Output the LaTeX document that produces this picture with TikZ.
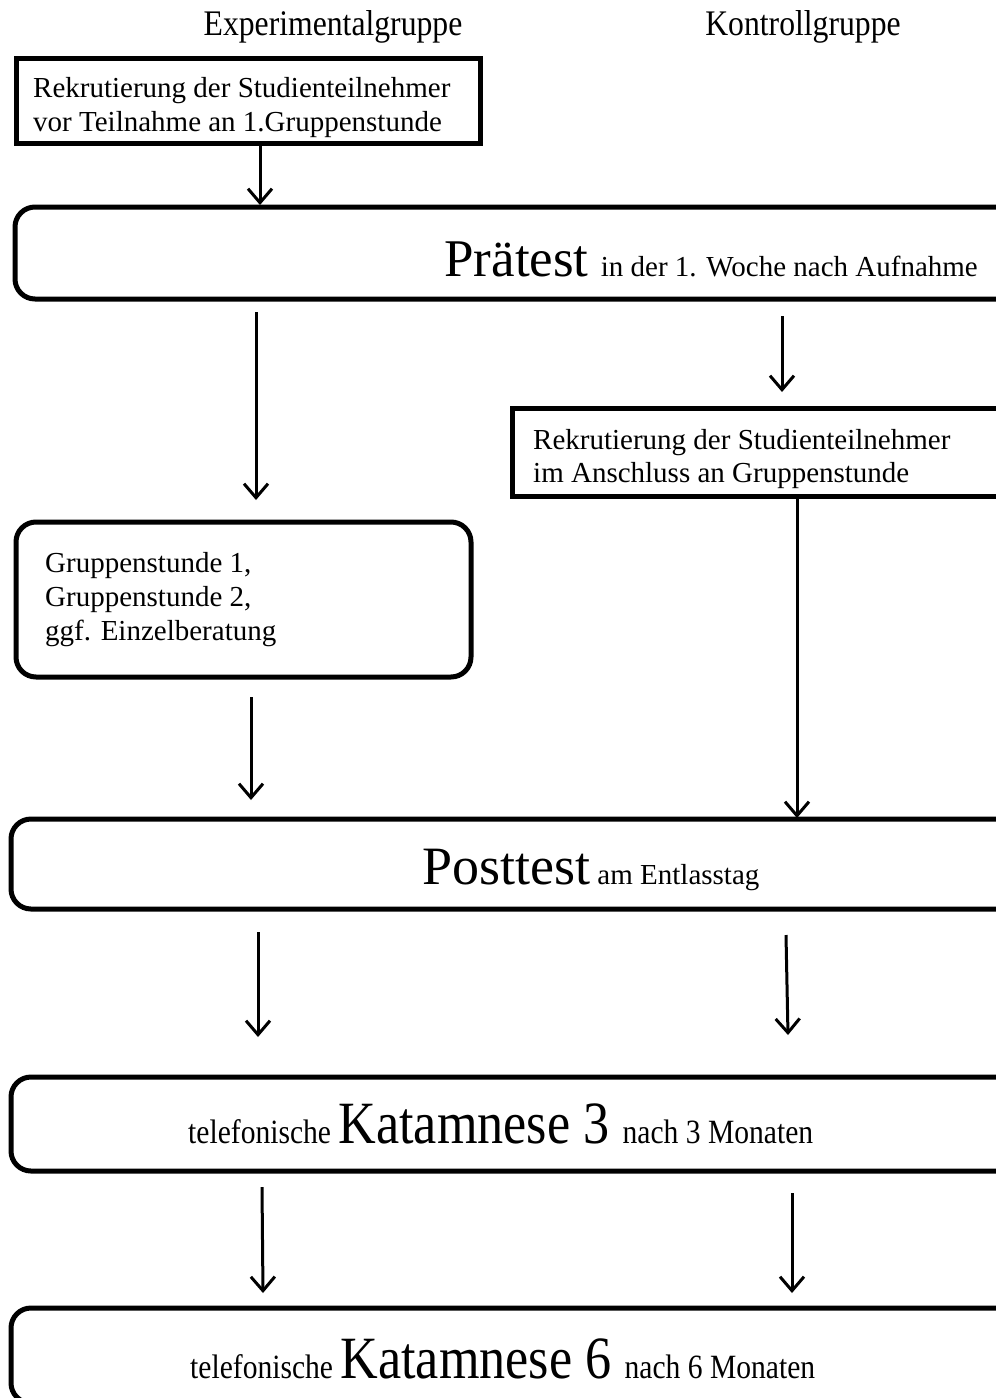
\documentclass[tikz,border=0pt]{standalone}
\usepackage{fontspec}
\setmainfont{Liberation Serif}
\usetikzlibrary{arrows.meta}
\newcommand{\fsz}[1]{\fontsize{#1}{#1}\selectfont}
\tikzset{
  box/.style={line width=5pt},
  rbox/.style={line width=5pt, rounded corners=20pt},
  flow/.style={line width=3pt, -{Straight Barb[length=14pt,width=24pt,line width=3pt]}},
  txt/.style={inner sep=0pt, anchor=base west, font=\fsz{29}},
  ctxt/.style={inner sep=0pt, anchor=base},
}
\begin{document}
\begin{tikzpicture}[x=1pt,y=-1pt]
\useasboundingbox (0,0) rectangle (996,1398);
\clip (0,0) rectangle (996,1398);
% headers
\node[ctxt] (hexp) at (333,35) {\fsz{36}\scalebox{0.88}[1]{Experimentalgruppe}};
\node[ctxt] (hkon) at (803,35) {\fsz{36}\scalebox{0.88}[1]{Kontrollgruppe}};
% boxes
\draw[box] (16,58) rectangle (480,143);
\coordinate (b1s) at (260,145);
\draw[rbox] (15,207) rectangle (1020,299);
\coordinate (pren) at (260,205);
\draw[box] (512,408) rectangle (1020,496);
\draw[rbox] (16,522) rectangle (471,677);
\draw[rbox] (11,819) rectangle (1020,909);
\draw[rbox] (11,1077) rectangle (1020,1171);
\draw[rbox] (11,1308) rectangle (1020,1403);
% texts
\node[txt] (t1a) at (33,97) {Rekrutierung der Studienteilnehmer};
\node[txt] (t1b) at (33,131) {vor Teilnahme an 1.Gruppenstunde};
\node[inner sep=0pt, anchor=base east] (pre) at (978,276) {\fsz{53}Prätest\hspace{5pt}\fsz{29} in der 1. Woche nach Aufnahme};
\node[txt] (t2a) at (533,449) {Rekrutierung der Studienteilnehmer};
\node[txt] (t2b) at (533,482) {im Anschluss an Gruppenstunde};
\node[txt] (g1) at (45,572) {Gruppenstunde 1,};
\node[txt] (g2) at (45,606) {Gruppenstunde 2,};
\node[txt] (g3) at (45,640) {ggf. Einzelberatung};
\node[inner sep=0pt, anchor=base west] (post) at (422,884) {\fsz{54}Posttest\fsz{29} am Entlasstag};
\node[inner sep=0pt, anchor=base west] (k3) at (188,1143) {\scalebox{0.87}[1]{\fsz{34}telefonische \fsz{60}Katamnese 3 \fsz{34}nach 3 Monaten}};
\node[inner sep=0pt, anchor=base west] (k6) at (190,1378) {\scalebox{0.87}[1]{\fsz{34}telefonische \fsz{60}Katamnese 6 \fsz{34}nach 6 Monaten}};
% arrow coordinates
\coordinate (a2s) at (256,312); \coordinate (a2e) at (256,500);
\coordinate (a3s) at (782,316); \coordinate (a3e) at (782,392);
\coordinate (a4s) at (251,697); \coordinate (a4e) at (251,800);
\coordinate (a5s) at (797,496); \coordinate (a5e) at (797,818);
\coordinate (a6s) at (258,932); \coordinate (a6e) at (258,1037);
\coordinate (a7s) at (786,935); \coordinate (a7e) at (788,1035);
\coordinate (a8s) at (262,1187); \coordinate (a8e) at (263,1293);
\coordinate (a9s) at (792,1193); \coordinate (a9e) at (792,1293);
\draw[flow] (b1s) -- (pren);
\draw[flow] (a2s) -- (a2e);
\draw[flow] (a3s) -- (a3e);
\draw[flow] (a4s) -- (a4e);
\draw[flow] (a5s) -- (a5e);
\draw[flow] (a6s) -- (a6e);
\draw[flow] (a7s) -- (a7e);
\draw[flow] (a8s) -- (a8e);
\draw[flow] (a9s) -- (a9e);
\end{tikzpicture}
\end{document}
